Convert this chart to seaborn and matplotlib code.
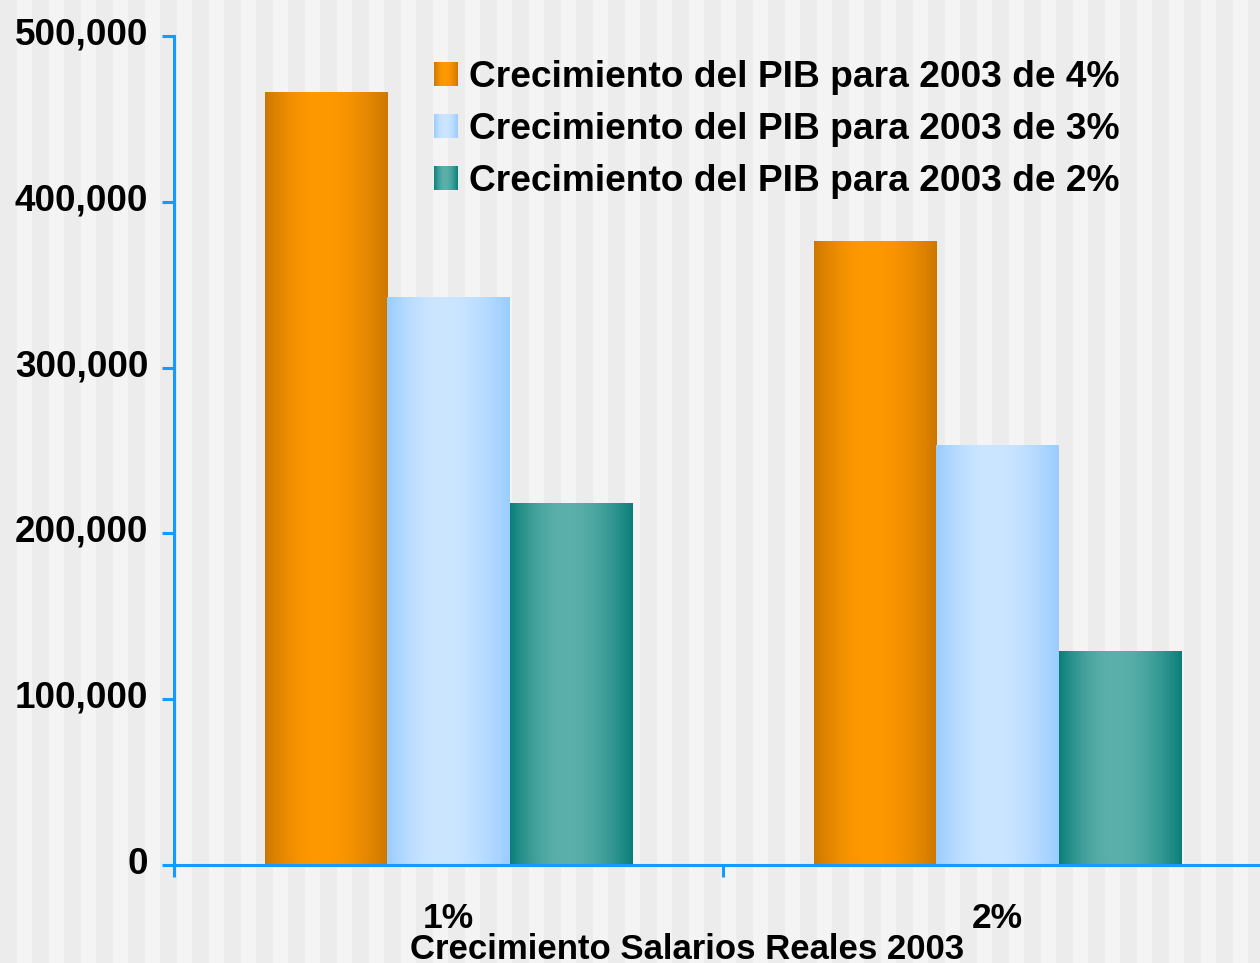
import numpy as np
import pandas as pd
import matplotlib
matplotlib.use("Agg")
import matplotlib.pyplot as plt
import matplotlib.transforms as mtransforms
from matplotlib.patches import Patch
from matplotlib.colors import to_rgb
import seaborn as sns

# ---- data ----
salarios = ["1%", "2%"]
series = ["Crecimiento del PIB para 2003 de 4%",
          "Crecimiento del PIB para 2003 de 3%",
          "Crecimiento del PIB para 2003 de 2%"]
pib_4 = [466000, 376000]
pib_3 = [342000, 253000]
pib_2 = [218000, 129000]
yticks = [0, 100000, 200000, 300000, 400000, 500000]
xlabel = "Crecimiento Salarios Reales 2003"

# ---- style ----
edge_cols = ["#CC7700", "#99CCFF", "#0A7E78"]
center_cols = ["#FF9900", "#CCE6FF", "#5CB0AB"]
axis_blue = "#149BFF"

sns.set_theme(style="white")
plt.rcParams["font.family"] = ["Liberation Sans", "DejaVu Sans"]
plt.rcParams["font.weight"] = "bold"
plt.rcParams["text.color"] = "black"

W, H = 1260, 963
fig = plt.figure(figsize=(W / 100, H / 100), dpi=100)

# striped background
bg = fig.add_axes([0, 0, 1, 1], zorder=0)
cols = np.arange(W)
light = (cols % 32) >= 17
stripe = np.where(light[:, None], to_rgb("#F4F4F4"), to_rgb("#ECECEC"))[None, :, :]
bg.imshow(stripe, extent=[0, W, 0, 1], aspect="auto", interpolation="nearest")
bg.set_xlim(0, W); bg.set_ylim(0, 1)
bg.axis("off")

ax = fig.add_axes([174 / W, 1 - 865 / H, 1098 / W, 829 / H], zorder=1)
ax.patch.set_alpha(0)

df = pd.DataFrame({
    "salario": salarios * 3,
    "serie": [series[0]] * 2 + [series[1]] * 2 + [series[2]] * 2,
    "valor": pib_4 + pib_3 + pib_2,
})

sns.barplot(data=df, x="salario", y="valor", hue="serie", hue_order=series,
            palette=center_cols, saturation=1, width=0.668, gap=0,
            legend=False, ax=ax, edgecolor="none", linewidth=0)


def gradient(edge, center, peak=0.45, n=256):
    t = np.linspace(0, 1, n)
    u = np.where(t < peak, t / peak * 0.5, 0.5 + (t - peak) / (1 - peak) * 0.5)
    f = np.sin(np.pi * u) ** 0.9
    e = np.array(to_rgb(edge)); c = np.array(to_rgb(center))
    return (e[None, :] + (c - e)[None, :] * f[:, None])[None, :, :]


grads = [gradient(e, c) for e, c in zip(edge_cols, center_cols)]

# overlay gradient on each seaborn bar
for k, cont in enumerate(ax.containers):
    for bar in cont:
        x0, w, h = bar.get_x(), bar.get_width(), bar.get_height()
        ax.imshow(grads[k], extent=[x0, x0 + w, 0, h], aspect="auto",
                  interpolation="bilinear", zorder=bar.get_zorder() + 0.1)

ax.set_xlim(-0.5, 1.5)
ax.set_ylim(0, 500000)

# axes styling
for s in ["top", "right"]:
    ax.spines[s].set_visible(False)
for s in ["left", "bottom"]:
    ax.spines[s].set_color(axis_blue)
    ax.spines[s].set_linewidth(2.2)
    ax.spines[s].set_zorder(5)

ax.set_yticks(yticks)
ax.set_yticklabels([f"{v:,.0f}" for v in yticks])
ax.tick_params(axis="y", which="major", left=True, direction="out", length=8.6,
               width=2.2, color=axis_blue, labelsize=26.6, pad=10, labelcolor="black")

ax.set_xticks([-0.5, 0.5, 1.5])
ax.set_xticklabels(["", "", ""])
ax.set_xticks([0, 1], minor=True)
ax.set_xticklabels(salarios, minor=True)
ax.tick_params(axis="x", which="major", bottom=True, direction="out", length=8.6,
               width=2.2, color=axis_blue)
ax.tick_params(axis="x", which="minor", bottom=True, length=0, labelsize=25.5,
               pad=27, labelcolor="black")
offset = mtransforms.ScaledTranslation(0, 5 / 100, fig.dpi_scale_trans)
for lab in ax.get_yticklabels():
    lab.set_fontweight("bold")
    lab.set_transform(lab.get_transform() + offset)
for lab in ax.get_xticklabels(minor=True):
    lab.set_fontweight("bold")

ax.set_xlabel(xlabel, fontsize=25, fontweight="bold", color="black")
ax.xaxis.set_label_coords(0.467, -0.082)
ax.set_ylabel("")
ax.grid(False)

handles = [Patch(facecolor=c, edgecolor="none") for c in center_cols]
leg = ax.legend(handles, series, loc="upper left",
                bbox_to_anchor=(434 / W, 1 - 60 / H), bbox_transform=fig.transFigure,
                frameon=False, borderpad=0, borderaxespad=0,
                handlelength=0.625, handleheight=0.625, handletextpad=0.33,
                labelspacing=0.46, prop={"size": 26.7, "weight": "bold"})
for t in leg.get_texts():
    t.set_color("black")

fig.canvas.draw()
for k, hd in enumerate(leg.legend_handles):
    bb = hd.get_window_extent()
    iax = fig.add_axes([bb.x0 / W, bb.y0 / H, bb.width / W, bb.height / H], zorder=6)
    iax.imshow(grads[k], aspect="auto", interpolation="bilinear")
    iax.axis("off")

fig.savefig("out.png", dpi=100)
